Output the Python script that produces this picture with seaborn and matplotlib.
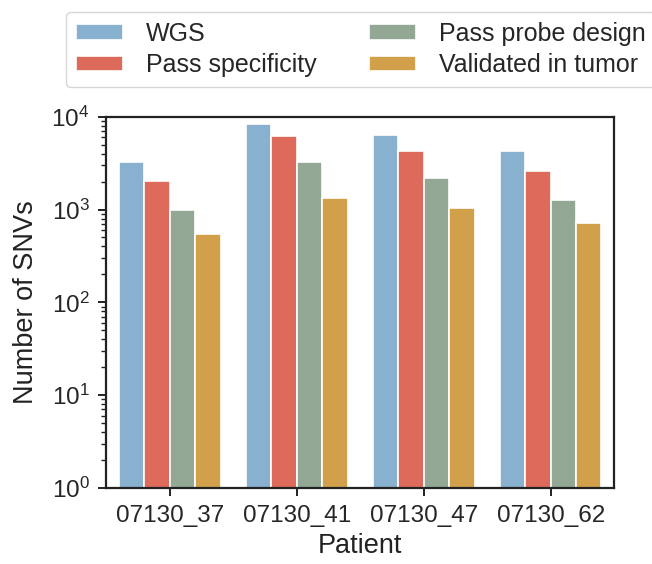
import matplotlib
matplotlib.use("Agg")
import matplotlib.pyplot as plt
import seaborn as sns
import pandas as pd
from matplotlib.ticker import LogLocator, NullFormatter

patients = ["07130_37", "07130_41", "07130_47", "07130_62"]
categories = ["WGS", "Pass specificity", "Pass probe design", "Validated in tumor"]
wgs = [3250, 8400, 6400, 4300]
pass_spec = [2040, 6130, 4300, 2600]
pass_probe = [995, 3215, 2160, 1274]
validated = [543, 1316, 1037, 707]
colors = ["#88b0cf", "#dd6a5b", "#93a795", "#d2a04a"]

rows = []
for cat, vals in zip(categories, [wgs, pass_spec, pass_probe, validated]):
    for p, v in zip(patients, vals):
        rows.append({"Patient": p, "Category": cat, "Number of SNVs": v})
df = pd.DataFrame(rows)

sns.set_theme(style="ticks")
plt.rcParams["font.family"] = ["Liberation Sans", "DejaVu Sans"]
plt.rcParams["mathtext.fontset"] = "custom"
plt.rcParams["mathtext.rm"] = "Liberation Sans"
plt.rcParams["mathtext.it"] = "Liberation Sans:italic"
plt.rcParams["mathtext.bf"] = "Liberation Sans:bold"
plt.rcParams["xtick.direction"] = "out"
plt.rcParams["ytick.direction"] = "out"

fig = plt.figure(figsize=(6.52, 5.64), dpi=100)
ax = fig.add_axes([0.163, 0.135, 0.779, 0.658])

sns.barplot(data=df, x="Patient", y="Number of SNVs", hue="Category",
            hue_order=categories, order=patients, palette=colors, saturation=1,
            edgecolor="white", linewidth=1.2, ax=ax, legend=True)
ax.set_yscale("log")
ax.set_ylim(1, 1e4)
ax.yaxis.set_major_locator(LogLocator(base=10, numticks=10))
ax.yaxis.set_minor_locator(LogLocator(base=10, subs=range(2, 10), numticks=20))
ax.yaxis.set_minor_formatter(NullFormatter())
for s in ax.spines.values():
    s.set_linewidth(1.6)
    s.set_color("#222222")
ax.tick_params(axis="both", which="major", labelsize=17.5, length=6, width=1.4,
               color="#222222", pad=6)
ax.tick_params(axis="y", which="minor", length=3.5, width=1.0, color="#222222")
ax.set_xlabel("Patient", fontsize=19.5, color="#222222", labelpad=5)
ax.set_ylabel("Number of SNVs", fontsize=19.5, color="#222222", labelpad=9)

h, l = ax.get_legend_handles_labels()
ax.legend_.remove()
leg = fig.legend(h, l, loc="upper left", bbox_to_anchor=(0.1008, 0.979), ncol=2,
                 fontsize=18, frameon=True, handlelength=1.9, handleheight=0.6,
                 columnspacing=2.1, labelspacing=0.3, borderaxespad=0,
                 handletextpad=0.9, borderpad=0.4)
leg.get_frame().set_edgecolor("#cccccc")

fig.savefig("out.png", dpi=100)
